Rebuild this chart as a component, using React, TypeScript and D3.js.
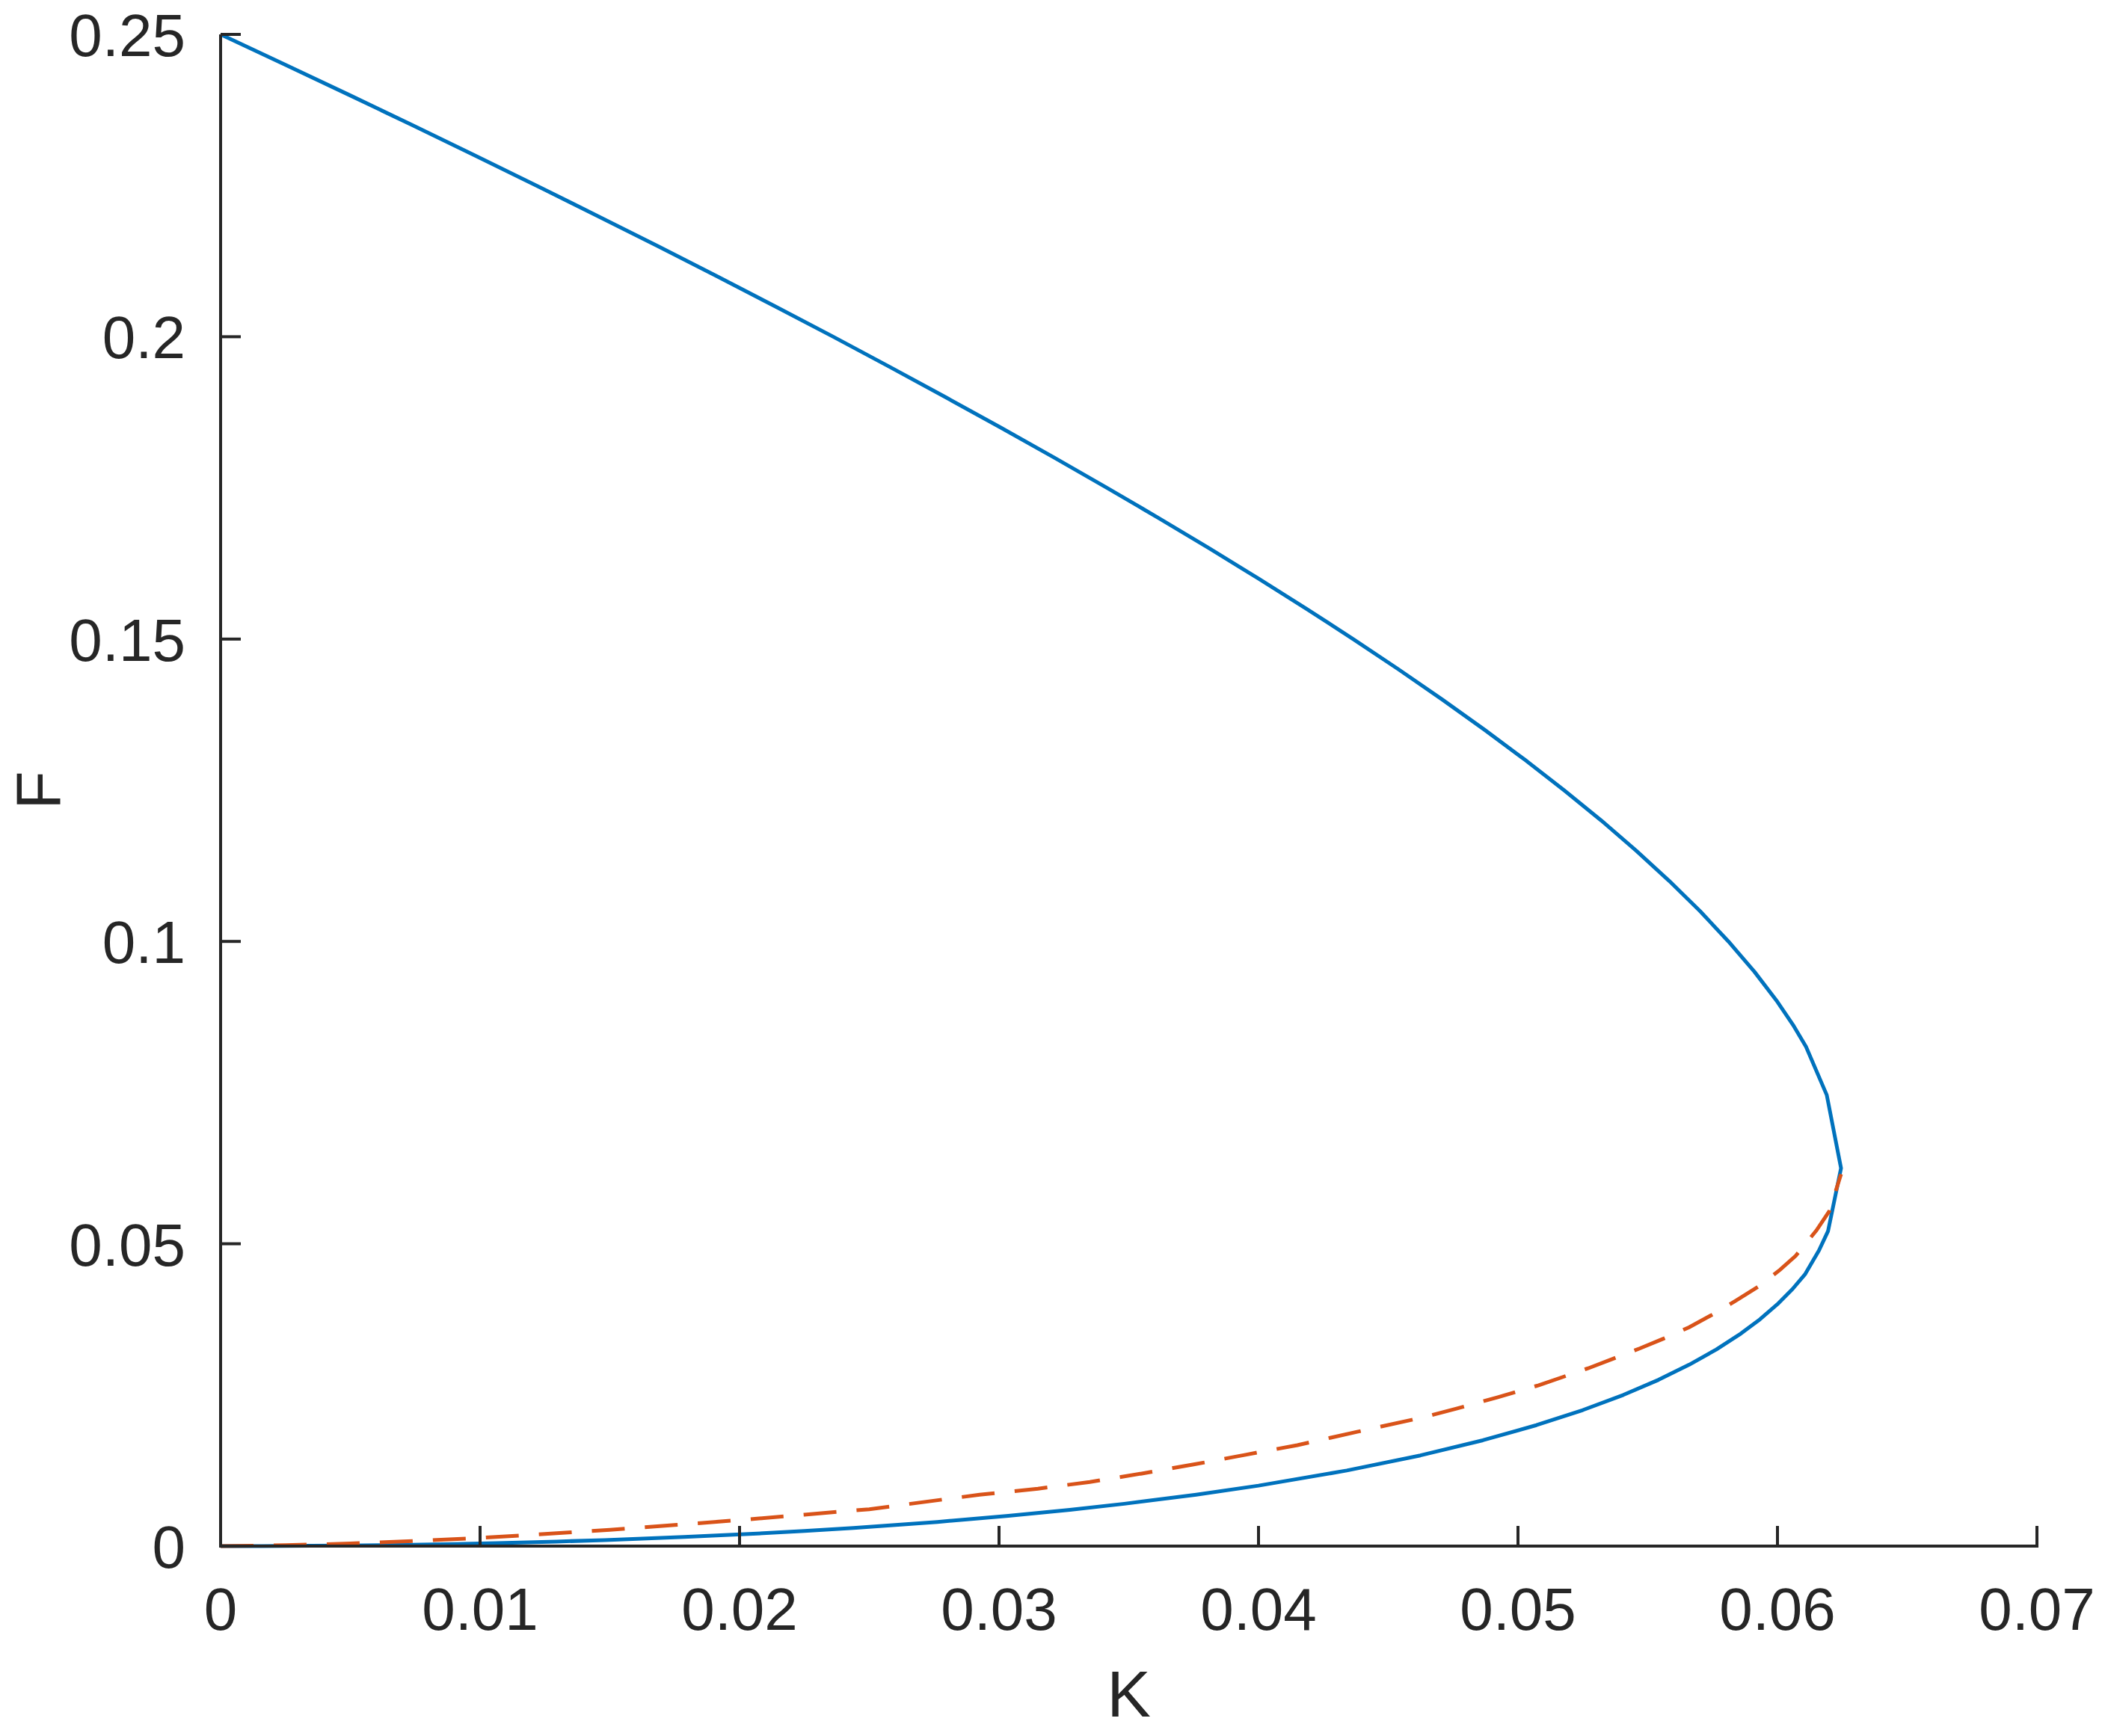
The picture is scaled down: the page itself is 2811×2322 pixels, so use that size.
import * as d3 from 'd3';
import React from 'react';

const width = 2811;
const height = 2322;
const margin = { top: 46, right: 87, bottom: 254, left: 295 };

// saddle-node branch (blue, solid) from top to bottom
const snK = [
  0, 0.002487, 0.00495, 0.007384, 0.00979, 0.012171, 0.01452, 0.01684, 0.01913,
  0.021385, 0.02361, 0.025794, 0.02794, 0.030058, 0.03213, 0.034165, 0.03616,
  0.038101, 0.04, 0.04185, 0.04365, 0.045394, 0.04708, 0.048712, 0.05028,
  0.051777, 0.05321, 0.054558, 0.05583, 0.057019, 0.05811, 0.05911, 0.06,
  0.060629, 0.0611, 0.0619, 0.06245, 0.06195, 0.0616, 0.06107, 0.060578, 0.06,
  0.059325, 0.05854, 0.057639, 0.0566, 0.055416, 0.05406, 0.0525, 0.05071,
  0.048644, 0.04624, 0.043402, 0.04, 0.037598, 0.03483, 0.03273, 0.03036,
  0.027623, 0.02439, 0.0225, 0.02036, 0.017865, 0.01481, 0.012943, 0.01068,
  0.009004, 0.00687, 0.0049, 0.00349, 0.001571, 0,
];
const snF = [
  0.25, 0.245, 0.24, 0.235, 0.23, 0.225, 0.22, 0.215, 0.21, 0.205, 0.2, 0.195,
  0.19, 0.185, 0.18, 0.175, 0.17, 0.165, 0.16, 0.155, 0.15, 0.145, 0.14, 0.135,
  0.13, 0.125, 0.12, 0.115, 0.11, 0.105, 0.1, 0.095, 0.09, 0.086, 0.0826,
  0.0746, 0.0625, 0.0521, 0.0489, 0.045, 0.0425, 0.04, 0.0375, 0.035, 0.0325,
  0.03, 0.0275, 0.025, 0.0225, 0.02, 0.0175, 0.015, 0.0125, 0.01, 0.0085,
  0.007, 0.006, 0.005, 0.004, 0.003, 0.0025, 0.002, 0.0015, 0.001, 0.00075,
  0.0005, 0.00035, 0.0002, 0.0001, 0.00005, 0.00001, 0,
];

// hopf branch (orange, dashed)
const hopfK = [
  0, 0.0025, 0.005, 0.0075, 0.01, 0.0125, 0.015, 0.0175, 0.02, 0.0225, 0.025,
  0.02925, 0.0315, 0.0335, 0.0355, 0.0375, 0.0395, 0.0415, 0.0438, 0.04625,
  0.0476, 0.0492, 0.0508, 0.0527, 0.0547, 0.0556, 0.0566, 0.0575, 0.0584,
  0.0593, 0.0601, 0.0607, 0.0615, 0.062, 0.06245,
];
const hopfF = [
  0, 0.00014, 0.00043, 0.00085, 0.00136, 0.002, 0.0027, 0.0035, 0.0043, 0.0052,
  0.0061, 0.0085, 0.0095, 0.0106, 0.012, 0.0135, 0.0151, 0.0167, 0.0189,
  0.0212, 0.0227, 0.0246, 0.0266, 0.0294, 0.0327, 0.0343, 0.0362, 0.0383,
  0.0406, 0.043, 0.0457, 0.048, 0.0522, 0.0554, 0.0615,
];

const xTicks = [0, 0.01, 0.02, 0.03, 0.04, 0.05, 0.06, 0.07];
const xTickLabels = ['0', '0.01', '0.02', '0.03', '0.04', '0.05', '0.06', '0.07'];
const yTicks = [0, 0.05, 0.1, 0.15, 0.2, 0.25];
const yTickLabels = ['0', '0.05', '0.1', '0.15', '0.2', '0.25'];

const ink = '#262626';
const font = '"Liberation Sans", Arial, Helvetica, sans-serif';

export default function App() {
  const x = d3
    .scaleLinear()
    .domain([0, 0.07])
    .range([margin.left, width - margin.right]);
  const y = d3
    .scaleLinear()
    .domain([0, 0.25])
    .range([height - margin.bottom, margin.top]);

  const line = d3
    .line<[number, number]>()
    .x((d) => x(d[0]))
    .y((d) => y(d[1]));

  const sn = snK.map((k, i) => [k, snF[i]] as [number, number]);
  const hopf = hopfK.map((k, i) => [k, hopfF[i]] as [number, number]);

  const x0 = x(0);
  const y0 = y(0);
  const tickLen = 27;

  return (
    <svg
      width={width}
      height={height}
      style={{ position: 'absolute', left: 0, top: 0, background: '#fff' }}
      fontFamily={font}
    >
      <rect width={width} height={height} fill="#fff" />
      <path
        d={line(sn) as string}
        fill="none"
        stroke="#0072BD"
        strokeWidth={5}
        strokeLinejoin="round"
      />
      <path
        d={line(hopf) as string}
        fill="none"
        stroke="#D95319"
        strokeWidth={5}
        strokeDasharray="44 27"
      />

      {/* axes */}
      <g stroke={ink} strokeWidth={4} fill="none">
        <line x1={x0} x2={x0} y1={y(0.25)} y2={y0 + 2} />
        <line x1={x0 - 2} x2={x(0.07) + 2} y1={y0} y2={y0} />
        {xTicks.map((t) => (
          <line key={'xt' + t} x1={x(t)} x2={x(t)} y1={y0} y2={y0 - tickLen} />
        ))}
        {yTicks.map((t) => (
          <line key={'yt' + t} x1={x0} x2={x0 + tickLen} y1={y(t)} y2={y(t)} />
        ))}
      </g>

      <g fill={ink} fontSize={80}>
        {xTicks.map((t, i) => (
          <text key={'xl' + t} x={x(t)} y={y0 + 112} textAnchor="middle">
            {xTickLabels[i]}
          </text>
        ))}
        {yTicks.map((t, i) => (
          <text key={'yl' + t} x={x0 - 47} y={y(t) + 29} textAnchor="end">
            {yTickLabels[i]}
          </text>
        ))}
      </g>

      <text
        x={(x(0) + x(0.07)) / 2}
        y={2296}
        textAnchor="middle"
        fontSize={88}
        fill={ink}
      >
        K
      </text>
      <text
        transform={`translate(80, ${(y(0) + y(0.25)) / 2}) rotate(-90)`}
        textAnchor="middle"
        fontSize={84}
        fill={ink}
      >
        F
      </text>
    </svg>
  );
}
